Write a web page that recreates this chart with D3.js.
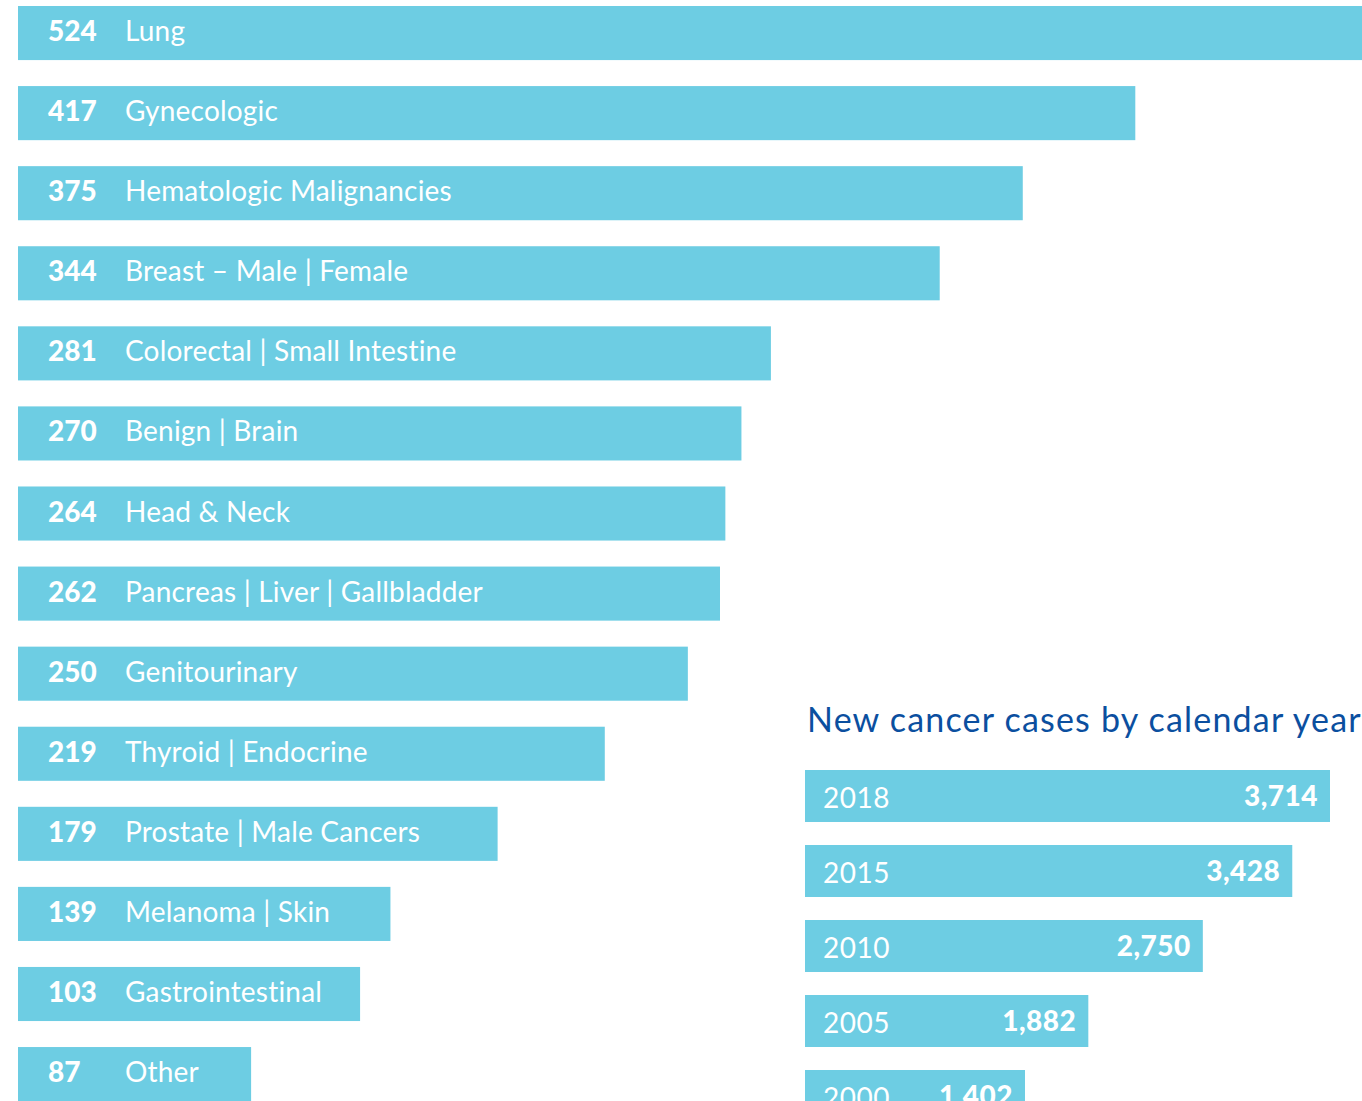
<!DOCTYPE html>
<html>
<head>
<meta charset="utf-8">
<script src="https://cdn.jsdelivr.net/npm/d3@7"></script>
<style>
  body { margin: 0; background: #fff; overflow: hidden; }
  svg { display: block; font-family: Lato, 'Open Sans', sans-serif; }
</style>
</head>
<body>
<div id="chart"></div>
<script>
// cases by cancer site
const sites = ['Lung', 'Gynecologic', 'Hematologic Malignancies', 'Breast \u2013 Male | Female',
  'Colorectal | Small Intestine', 'Benign | Brain', 'Head & Neck', 'Pancreas | Liver | Gallbladder',
  'Genitourinary', 'Thyroid | Endocrine', 'Prostate | Male Cancers', 'Melanoma | Skin',
  'Gastrointestinal', 'Other']
const siteCases = [524, 417, 375, 344, 281, 270, 264, 262, 250, 219, 179, 139, 103, 87]

// new cases by calendar year
const years = ['2018', '2015', '2010', '2005', '2000']
const yearCases = [3714, 3428, 2750, 1882, 1402]

const title = 'New cancer cases by calendar year'

const width = 1362
const height = 1101
const barColor = '#6dcde3'

const svg = d3
  .select('#chart')
  .append('svg')
  .attr('width', width)
  .attr('height', height)

// ---- left chart: sites
const left = 18
const siteStep = 80.08
const siteGap = 26

const ySite = d3
  .scaleBand()
  .domain(sites)
  .range([6, 6 + siteStep * sites.length - siteGap])
  .paddingInner(siteGap / siteStep)
  .paddingOuter(0)

// about 2.68px per case, the top bar runs off the page
const xSite = d3
  .scaleLinear()
  .domain([0, 524])
  .range([0, 1404])

const siteData = sites.map((s, i) => ({ name: s, value: siteCases[i] }))

const rows = svg
  .append('g')
  .attr('class', 'sites')
  .selectAll('g')
  .data(siteData)
  .enter()
  .append('g')
  .attr('transform', d => 'translate(' + left + ',' + ySite(d.name) + ')')

const bars = rows
  .append('rect')
  .attr('height', ySite.bandwidth())
  .attr('fill', barColor)

rows
  .append('text')
  .text(d => d.value)
  .attr('x', 30)
  .attr('y', ySite.bandwidth() / 2 + 8)
  .attr('fill', '#fff')
  .attr('font-size', '28px')
  .attr('font-weight', 900)

const names = rows
  .append('text')
  .text(d => d.name)
  .attr('x', 107)
  .attr('y', ySite.bandwidth() / 2 + 8)
  .attr('fill', '#fff')
  .attr('font-size', '28px')
  .attr('letter-spacing', '0.2px')

// short bars are stretched so the label still fits inside
names.each(function (d) {
  d.labelEnd = 107 + this.getComputedTextLength() + 38
})
bars.attr('width', d => Math.max(xSite(d.value), d.labelEnd))

// ---- right chart: years
const yearLeft = 805
const yearStep = 75
const yearGap = 23

svg
  .append('text')
  .text(title)
  .attr('x', 807)
  .attr('y', 732)
  .attr('fill', '#0b4f9f')
  .attr('font-size', '34px')
  .attr('letter-spacing', '1.2px')

const yYear = d3
  .scaleBand()
  .domain(years)
  .range([770, 770 + yearStep * years.length - yearGap])
  .paddingInner(yearGap / yearStep)
  .paddingOuter(0)

const xYear = d3
  .scaleLinear()
  .domain(d3.extent(yearCases))
  .range([220, 525])

const yearData = years.map((y, i) => ({ year: y, value: yearCases[i] }))

const yearRows = svg
  .append('g')
  .attr('class', 'years')
  .selectAll('g')
  .data(yearData)
  .enter()
  .append('g')
  .attr('transform', d => 'translate(' + yearLeft + ',' + yYear(d.year) + ')')

yearRows
  .append('rect')
  .attr('width', d => xYear(d.value))
  .attr('height', yYear.bandwidth())
  .attr('fill', barColor)

yearRows
  .append('text')
  .text(d => d.year)
  .attr('x', 18)
  .attr('y', yYear.bandwidth() / 2 + 12)
  .attr('fill', '#fff')
  .attr('font-size', '28px')
  .attr('letter-spacing', '0.5px')

yearRows
  .append('text')
  .text(d => d3.format(',')(d.value))
  .attr('x', d => xYear(d.value) - 12)
  .attr('y', yYear.bandwidth() / 2 + 10)
  .attr('text-anchor', 'end')
  .attr('fill', '#fff')
  .attr('font-size', '28px')
  .attr('font-weight', 900)
  .attr('letter-spacing', '0.5px')
</script>
</body>
</html>
